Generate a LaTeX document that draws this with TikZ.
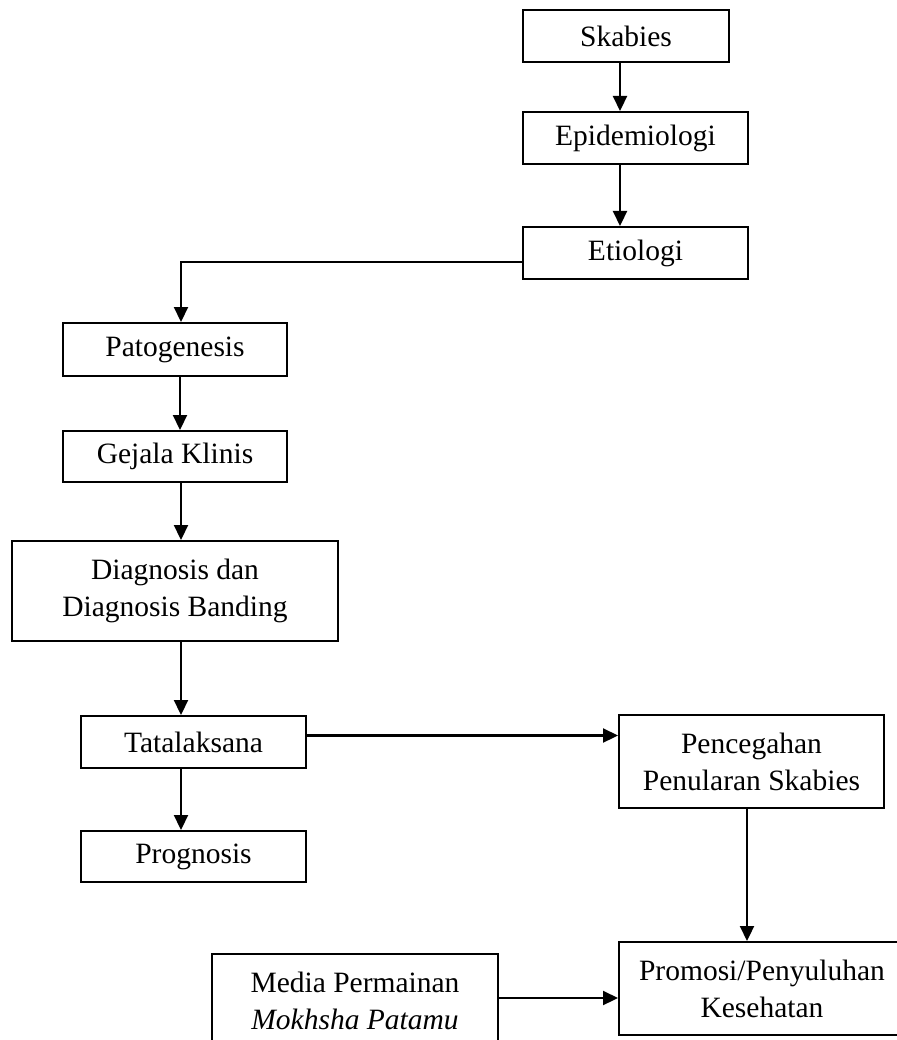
\documentclass[tikz,border=0pt]{standalone}
\usepackage{fontspec}
\setmainfont{Liberation Serif}
\usetikzlibrary{arrows.meta}
\begin{document}
\begin{tikzpicture}[x=1pt,y=1pt,
  box/.style={draw, line width=2pt, inner sep=0pt, align=center,
    font=\fontsize{29.5}{37}\selectfont},
  arr/.style={line width=2.2pt, -{Triangle[length=15pt,width=14pt]}}]
\useasboundingbox (0,0) rectangle (896,-1040);
\node[box, minimum width=206, minimum height=52] (sk) at (626,-36) {Skabies};
\node[box, minimum width=225, minimum height=52] (epi) at (635.5,-138) {Epidemiologi};
\node[box, minimum width=225, minimum height=52] (eti) at (635.5,-253) {Etiologi};
\node[box, minimum width=224, minimum height=53] (pat) at (175,-349.5) {Patogenesis};
\node[box, minimum width=224, minimum height=51] (gej) at (175,-456.5) {Gejala Klinis};
\node[box, minimum width=326, minimum height=100] (dia) at (175,-591) {Diagnosis dan\\Diagnosis Banding};
\node[box, minimum width=225, minimum height=52] (tat) at (193.5,-742) {Tatalaksana};
\node[box, minimum width=225, minimum height=51] (pro) at (193.5,-856.5) {Prognosis};
\node[box, minimum width=265, minimum height=93] (pen) at (751.5,-761.5) {Pencegahan\\Penularan Skabies};
\node[box, minimum width=286, minimum height=93] (prm) at (762,-988.5) {Promosi/Penyuluhan\\Kesehatan};
\node[box, minimum width=286, minimum height=93] (med) at (355,-1000.5) {Media Permainan\\\textit{Mokhsha Patamu}};
\draw[arr] ([xshift=-6]sk.south) -- ([xshift=-6]sk.south |- epi.north);
\draw[arr] ([xshift=-15.5]epi.south) -- ([xshift=-15.5]epi.south |- eti.north);
\draw[arr] ([yshift=-9]eti.west) -| ([xshift=6]pat.north);
\draw[arr] ([xshift=5]pat.south) -- ([xshift=5]pat.south |- gej.north);
\draw[arr] ([xshift=6]gej.south) -- ([xshift=6]gej.south |- dia.north);
\draw[arr] ([xshift=6]dia.south) -- ([xshift=6]dia.south |- tat.north);
\draw[arr] ([xshift=-12.5]tat.south) -- ([xshift=-12.5]tat.south |- pro.north);
\draw[arr] ([yshift=6.5]tat.east) -- ([yshift=6.5]tat.east -| pen.west);
\draw[arr] ([xshift=-4.5]pen.south) -- ([xshift=-4.5]pen.south |- prm.north);
\draw[arr] ([yshift=2.5]med.east) -- ([yshift=2.5]med.east -| prm.west);
\end{tikzpicture}
\end{document}
